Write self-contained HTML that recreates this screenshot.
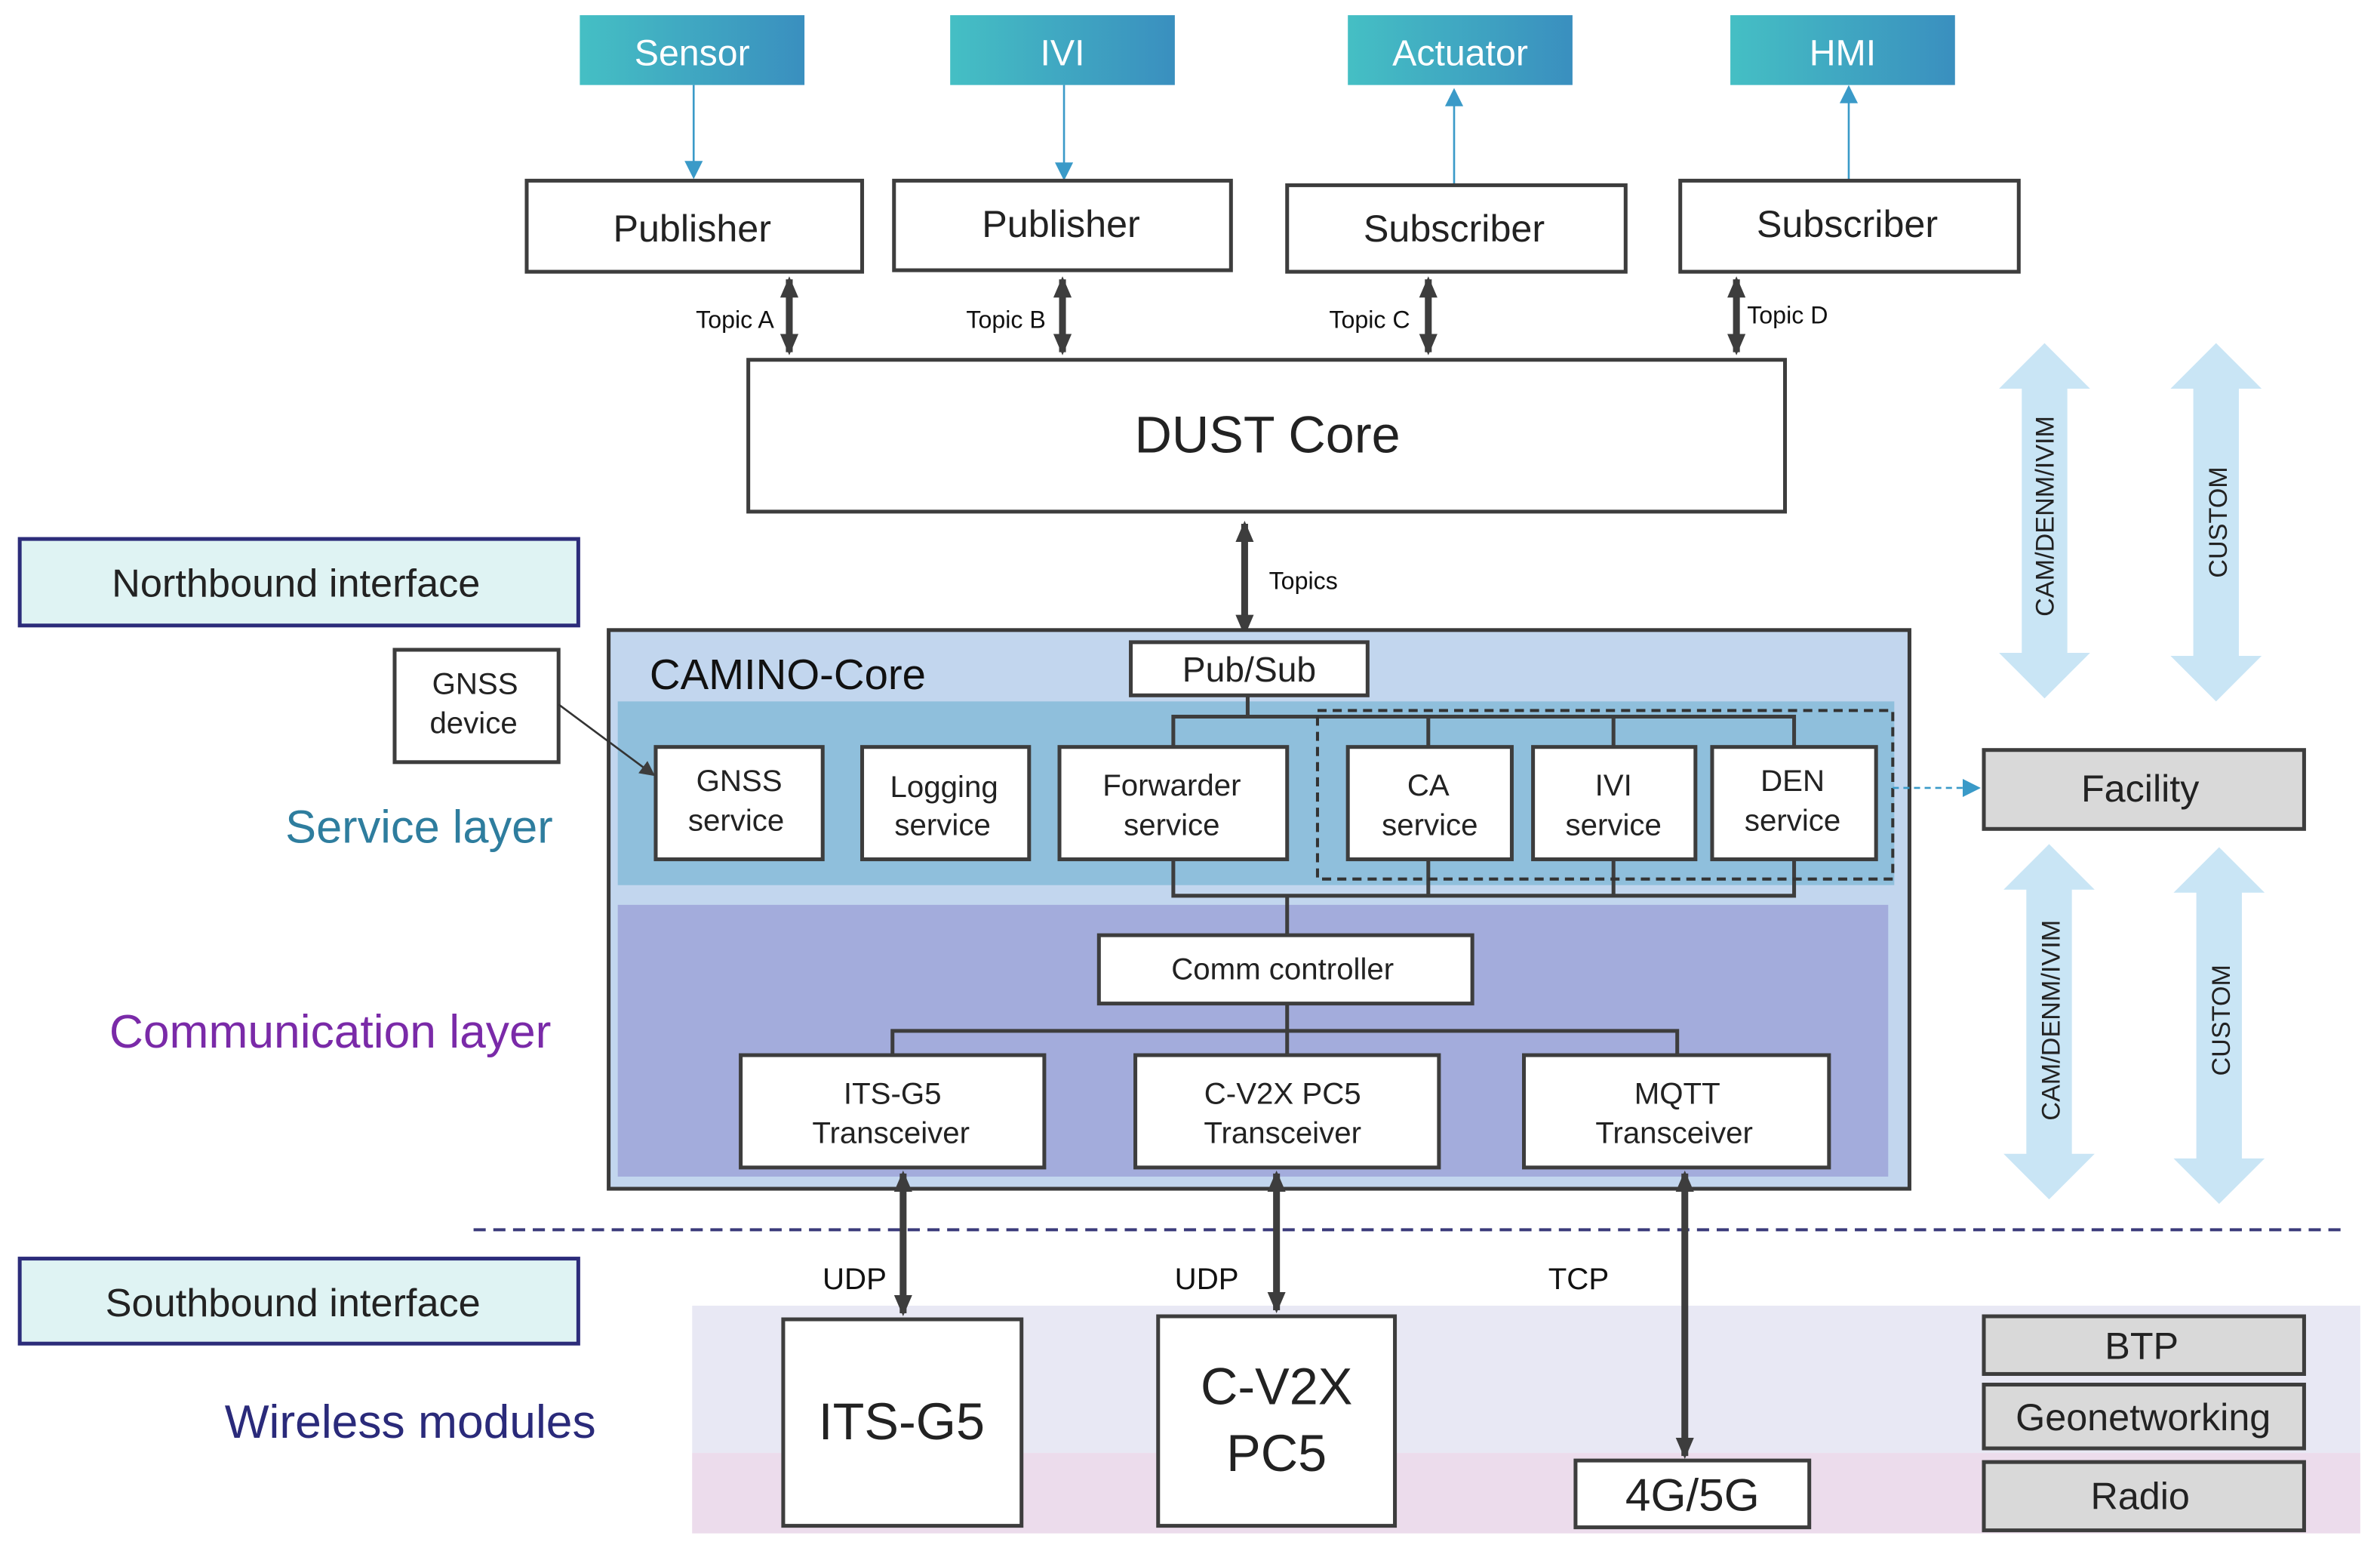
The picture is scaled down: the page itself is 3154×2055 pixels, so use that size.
<!DOCTYPE html>
<html><head><meta charset="utf-8"><style>
html,body{margin:0;padding:0;background:#fff;}
svg{display:block;}
text{font-family:"Liberation Sans",sans-serif;}
</style></head><body>
<svg width="3154" height="2055" viewBox="0 0 1568 1021.6" preserveAspectRatio="none" xmlns="http://www.w3.org/2000/svg">
<defs>
<linearGradient id="tg" x1="0" x2="1" y1="0" y2="0"><stop offset="0" stop-color="#45bfc4"/><stop offset="1" stop-color="#3a8fbf"/></linearGradient>
<marker id="ah" markerWidth="10" markerHeight="10" refX="8" refY="5" orient="auto" markerUnits="userSpaceOnUse"><path d="M0,0 L10,5 L0,10 z" fill="#3d3d3d"/></marker>
<marker id="ahb" markerWidth="14" markerHeight="12" refX="12" refY="6" orient="auto-start-reverse" markerUnits="userSpaceOnUse"><path d="M0,0 L14,6 L0,12 z" fill="#3d3d3d"/></marker>
<marker id="abl" markerWidth="12" markerHeight="12" refX="10" refY="6" orient="auto" markerUnits="userSpaceOnUse"><path d="M0,0 L12,6 L0,12 z" fill="#3a9ac8"/></marker>
</defs>
<g font-size="24" fill="#fff" text-anchor="middle">
<rect x="382" y="10" width="148" height="46" fill="url(#tg)"/><text x="456" y="43">Sensor</text>
<rect x="626" y="10" width="148" height="46" fill="url(#tg)"/><text x="700" y="43">IVI</text>
<rect x="888" y="10" width="148" height="46" fill="url(#tg)"/><text x="962" y="43">Actuator</text>
<rect x="1140" y="10" width="148" height="46" fill="url(#tg)"/><text x="1214" y="43">HMI</text>
</g>
<g stroke="#3a9ac8" stroke-width="1.3" fill="none">
<line x1="457" y1="56" x2="457" y2="116" marker-end="url(#abl)"/>
<line x1="701" y1="56" x2="701" y2="117" marker-end="url(#abl)"/>
<line x1="958" y1="121" x2="958" y2="60" marker-end="url(#abl)"/>
<line x1="1218" y1="119" x2="1218" y2="58" marker-end="url(#abl)"/>
</g>
<g fill="#fff" stroke="#3d3d3d" stroke-width="2.5">
<rect x="347" y="119" width="221" height="60"/>
<rect x="589" y="119" width="222" height="59"/>
<rect x="848" y="122" width="223" height="57"/>
<rect x="1107" y="119" width="223" height="60"/>
<rect x="493" y="237" width="683" height="100"/>
</g>
<g font-size="25" fill="#222" text-anchor="middle">
<text x="456" y="159">Publisher</text><text x="699" y="156">Publisher</text>
<text x="958" y="159">Subscriber</text><text x="1217" y="156">Subscriber</text>
<text x="835" y="298" font-size="34">DUST Core</text>
</g>
<g stroke="#3d3d3d" stroke-width="4.5" fill="none">
<line x1="520" y1="184" x2="520" y2="232" marker-start="url(#ahb)" marker-end="url(#ahb)"/>
<line x1="700" y1="184" x2="700" y2="232" marker-start="url(#ahb)" marker-end="url(#ahb)"/>
<line x1="941" y1="184" x2="941" y2="232" marker-start="url(#ahb)" marker-end="url(#ahb)"/>
<line x1="1144" y1="184" x2="1144" y2="232" marker-start="url(#ahb)" marker-end="url(#ahb)"/>
<line x1="820" y1="345" x2="820" y2="417" marker-start="url(#ahb)" marker-end="url(#ahb)"/>
</g>
<g font-size="16" fill="#111">
<text x="510" y="216" text-anchor="end">Topic A</text>
<text x="689" y="216" text-anchor="end">Topic B</text>
<text x="929" y="216" text-anchor="end">Topic C</text>
<text x="1151" y="213">Topic D</text>
<text x="836" y="388">Topics</text>
<text x="563" y="849" font-size="20" text-anchor="middle">UDP</text>
<text x="795" y="849" font-size="20" text-anchor="middle">UDP</text>
<text x="1040" y="849" font-size="20" text-anchor="middle">TCP</text>
</g>
<rect x="13" y="355" width="368" height="57" fill="#dff3f3" stroke="#2c2c7a" stroke-width="2.5"/>
<text x="195" y="393" font-size="26" fill="#222" text-anchor="middle">Northbound interface</text>
<rect x="13" y="829" width="368" height="56" fill="#dff3f3" stroke="#2c2c7a" stroke-width="2.5"/>
<text x="193" y="867" font-size="26" fill="#222" text-anchor="middle">Southbound interface</text>
<text x="188" y="555" font-size="30.5" fill="#2e7d9e">Service layer</text>
<text x="72" y="690" font-size="31" fill="#7a2aa8">Communication layer</text>
<text x="148" y="947" font-size="31" fill="#2a2a7a">Wireless modules</text>
<rect x="401" y="415" width="857" height="368" fill="#c2d6ee" stroke="#3a3a3a" stroke-width="2.5"/>
<rect x="407" y="462" width="841" height="121" fill="#8fbfdc"/>
<rect x="407" y="596" width="837" height="179" fill="#a3acdc"/>
<text x="428" y="454" font-size="28" fill="#111">CAMINO-Core</text>
<g stroke="#3d3d3d" stroke-width="2.5" fill="none">
<polyline points="822,458 822,472"/>
<polyline points="773,492 773,472 1182,472 1182,492"/>
<line x1="941" y1="472" x2="941" y2="492"/><line x1="1063" y1="472" x2="1063" y2="492"/>
<polyline points="773,566 773,590 1182,590 1182,566"/>
<line x1="941" y1="566" x2="941" y2="590"/><line x1="1063" y1="566" x2="1063" y2="590"/>
<line x1="848" y1="590" x2="848" y2="616"/>
<line x1="848" y1="661" x2="848" y2="695"/>
<polyline points="588,695 588,679 1105,679 1105,695"/>
</g>
<rect x="868" y="468" width="379" height="111" fill="none" stroke="#333" stroke-width="2" stroke-dasharray="6,4"/>
<g fill="#fff" stroke="#3d3d3d" stroke-width="2.5">
<rect x="745" y="423" width="156" height="35"/>
<rect x="260" y="428" width="108" height="74"/>
<rect x="432" y="492" width="110" height="74"/>
<rect x="568" y="492" width="110" height="74"/>
<rect x="698" y="492" width="150" height="74"/>
<rect x="888" y="492" width="108" height="74"/>
<rect x="1010" y="492" width="107" height="74"/>
<rect x="1128" y="492" width="108" height="74"/>
<rect x="724" y="616" width="246" height="45"/>
<rect x="488" y="695" width="200" height="74"/>
<rect x="748" y="695" width="200" height="74"/>
<rect x="1004" y="695" width="201" height="74"/>
</g>
<line x1="368" y1="464" x2="430" y2="510" stroke="#333" stroke-width="1.3" marker-end="url(#ah)"/>
<g font-size="20" fill="#222" text-anchor="middle">
<text x="823" y="449" font-size="23">Pub/Sub</text>
<text x="313" y="457">GNSS</text><text x="312" y="483">device</text>
<text x="487" y="521">GNSS</text><text x="485" y="547">service</text>
<text x="622" y="525">Logging</text><text x="621" y="550">service</text>
<text x="772" y="524">Forwarder</text><text x="772" y="550">service</text>
<text x="941" y="524">CA</text><text x="942" y="550">service</text>
<text x="1063" y="524">IVI</text><text x="1063" y="550">service</text>
<text x="1181" y="521">DEN</text><text x="1181" y="547">service</text>
<text x="845" y="645">Comm controller</text>
<text x="588" y="727">ITS-G5</text><text x="587" y="753">Transceiver</text>
<text x="845" y="727">C-V2X PC5</text><text x="845" y="753">Transceiver</text>
<text x="1105" y="727">MQTT</text><text x="1103" y="753">Transceiver</text>
</g>
<line x1="312" y1="810" x2="1545" y2="810" stroke="#3a3a7a" stroke-width="2" stroke-dasharray="8,5"/>
<rect x="456" y="860" width="1099" height="97" fill="#e8e8f4"/>
<rect x="456" y="957" width="1099" height="53" fill="#ecdcec"/>
<g fill="#fff" stroke="#3d3d3d" stroke-width="2.5">
<rect x="516" y="869" width="157" height="136"/>
<rect x="763" y="867" width="156" height="138"/>
<rect x="1038" y="962" width="154" height="44"/>
</g>
<g stroke="#3d3d3d" stroke-width="4.5" fill="none">
<line x1="595" y1="773" x2="595" y2="865" marker-start="url(#ahb)" marker-end="url(#ahb)"/>
<line x1="841" y1="773" x2="841" y2="863" marker-start="url(#ahb)" marker-end="url(#ahb)"/>
<line x1="1110" y1="773" x2="1110" y2="959" marker-start="url(#ahb)" marker-end="url(#ahb)"/>
</g>
<g fill="#d9d9d9" stroke="#3d3d3d" stroke-width="2.5">
<rect x="1307" y="494" width="211" height="52"/>
<rect x="1307" y="867" width="211" height="38"/>
<rect x="1307" y="912" width="211" height="42"/>
<rect x="1307" y="963" width="211" height="45"/>
</g>
<g font-size="34" fill="#222" text-anchor="middle">
<text x="594" y="948">ITS-G5</text>
<text x="841" y="925">C-V2X</text><text x="841" y="969">PC5</text>
<text x="1115" y="995" font-size="30">4G/5G</text>
</g>
<g font-size="25" fill="#222" text-anchor="middle">
<text x="1410" y="528">Facility</text>
<text x="1411" y="895">BTP</text>
<text x="1412" y="942">Geonetworking</text>
<text x="1410" y="994">Radio</text>
</g>
<line x1="1247" y1="519" x2="1303" y2="519" stroke="#3a9ac8" stroke-width="1.3" stroke-dasharray="4,3" marker-end="url(#abl)"/>
<g fill="#c9e5f5">
<path d="M1347,226 L1377,256 L1362,256 L1362,430 L1377,430 L1347,460 L1317,430 L1332,430 L1332,256 L1317,256 Z"/>
<path d="M1460,226 L1490,256 L1475,256 L1475,432 L1490,432 L1460,462 L1430,432 L1445,432 L1445,256 L1430,256 Z"/>
<path d="M1350,556 L1380,586 L1365,586 L1365,760 L1380,760 L1350,790 L1320,760 L1335,760 L1335,586 L1320,586 Z"/>
<path d="M1462,558 L1492,588 L1477,588 L1477,763 L1492,763 L1462,793 L1432,763 L1447,763 L1447,588 L1432,588 Z"/>
</g>
<g font-size="17" fill="#222" text-anchor="middle">
<text transform="translate(1353,340) rotate(-90)">CAM/DENM/IVIM</text>
<text transform="translate(1467,344) rotate(-90)">CUSTOM</text>
<text transform="translate(1357,672) rotate(-90)">CAM/DENM/IVIM</text>
<text transform="translate(1469,672) rotate(-90)">CUSTOM</text>
</g>
</svg>
</body></html>
